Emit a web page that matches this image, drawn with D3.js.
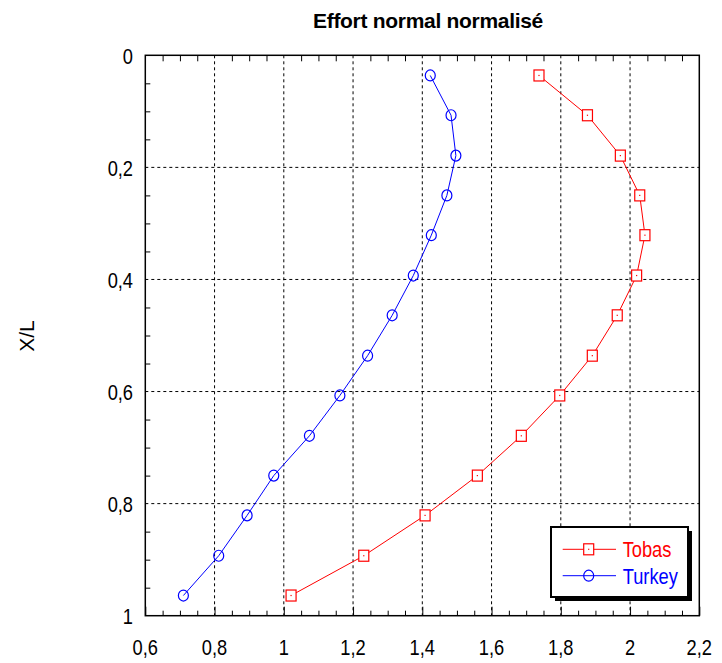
<!DOCTYPE html>
<html>
<head>
<meta charset="utf-8">
<script src="https://cdn.jsdelivr.net/npm/d3@7"></script>
<style>
  html, body { margin: 0; padding: 0; background: #fff; }
  svg { display: block; font-family: "Liberation Sans", Arial, sans-serif; }
</style>
</head>
<body>
<svg id="chart" width="722" height="663"></svg>
<script>
// Normalised position along the element (X/L)
const xOverL = [0.036, 0.107, 0.179, 0.250, 0.321, 0.393, 0.464, 0.536, 0.607, 0.679, 0.750, 0.821, 0.893, 0.964];
// Normalised normal force for each model
const tobas  = [1.737, 1.877, 1.972, 2.028, 2.043, 2.019, 1.963, 1.891, 1.797, 1.686, 1.559, 1.408, 1.231, 1.021];
const turkey = [1.423, 1.483, 1.497, 1.471, 1.426, 1.374, 1.313, 1.242, 1.162, 1.074, 0.971, 0.894, 0.812, 0.710];

const xTicks = [0.6, 0.8, 1.0, 1.2, 1.4, 1.6, 1.8, 2.0, 2.2];
const xTickLabels = ["0,6", "0,8", "1", "1,2", "1,4", "1,6", "1,8", "2", "2,2"];
const yTicks = [0, 0.2, 0.4, 0.6, 0.8, 1.0];
const yTickLabels = ["0", "0,2", "0,4", "0,6", "0,8", "1"];

const seriesNames = ["Tobas", "Turkey"];
const seriesColors = ["#ff0000", "#0000ff"];

const svg = d3.select("#chart");
const L = 145.3, R = 699.3, T = 55.3, B = 615.7;
const x = d3.scaleLinear().domain([0.6, 2.2]).range([L, R]);
const y = d3.scaleLinear().domain([0, 1]).range([T, B]);
const squish = 0.83;

// minor tick values every 0.05
const xMinor = d3.range(0.6, 2.2001, 0.05).filter(v => !xTicks.some(t => Math.abs(t - v) < 1e-6));
const yMinor = d3.range(0, 1.0001, 0.05).filter(v => !yTicks.some(t => Math.abs(t - v) < 1e-6));

// dashed grid
const grid = svg.append("g").attr("stroke", "#000").attr("stroke-width", 1).attr("stroke-dasharray", "3,3");
grid.selectAll("line.gx").data(xTicks.slice(1, -1)).join("line")
  .attr("x1", d => x(d)).attr("x2", d => x(d)).attr("y1", T).attr("y2", B);
grid.selectAll("line.gy").data(yTicks.slice(1, -1)).join("line")
  .attr("y1", d => y(d)).attr("y2", d => y(d)).attr("x1", L).attr("x2", R);

// inward ticks
const tickAxis = (axis, tr) => {
  const g = svg.append("g").attr("transform", tr).call(axis);
  g.select(".domain").remove();
  g.selectAll("line").attr("stroke", "#000").attr("stroke-width", 1);
  return g;
};
tickAxis(d3.axisBottom(x).tickValues(xMinor).tickSize(-5).tickFormat(""), `translate(0,${B})`);
tickAxis(d3.axisBottom(x).tickValues(xTicks).tickSize(-9).tickFormat(""), `translate(0,${B})`);
tickAxis(d3.axisTop(x).tickValues(xMinor).tickSize(-6).tickFormat(""), `translate(0,${T})`);
tickAxis(d3.axisLeft(y).tickValues(yMinor).tickSize(-5).tickFormat(""), `translate(${L},0)`);

// frame
svg.append("rect").attr("x", L).attr("y", T).attr("width", R - L).attr("height", B - T)
  .attr("fill", "none").attr("stroke", "#000").attr("stroke-width", 1.5);

// tick labels
svg.append("g").selectAll("text").data(xTicks).join("text")
  .attr("transform", d => `translate(${x(d)},655) scale(${squish},1)`)
  .attr("text-anchor", "middle").attr("font-size", 22).attr("fill", "#000")
  .text((d, i) => xTickLabels[i]);
svg.append("g").selectAll("text").data(yTicks).join("text")
  .attr("transform", d => `translate(133,${y(d) + 8.5}) scale(${squish},1)`)
  .attr("text-anchor", "end").attr("font-size", 22).attr("fill", "#000")
  .text((d, i) => yTickLabels[i]);

// title and axis label
svg.append("text").attr("x", 428).attr("y", 27.5).attr("text-anchor", "middle")
  .attr("font-size", 21).attr("font-weight", "bold").attr("fill", "#000")
  .attr("letter-spacing", -0.3)
  .text("Effort normal normalisé");
svg.append("text").attr("transform", "translate(34,336) rotate(-90)")
  .attr("text-anchor", "middle").attr("font-size", 21).attr("fill", "#000")
  .text("X/L");

// series lines
const line = d3.line().x(d => x(d[0])).y(d => y(d[1]));
const tobasPts = tobas.map((v, i) => [v, xOverL[i]]);
const turkeyPts = turkey.map((v, i) => [v, xOverL[i]]);

svg.append("path").datum(turkeyPts).attr("d", line)
  .attr("fill", "none").attr("stroke", seriesColors[1]).attr("stroke-width", 1);
svg.append("path").datum(tobasPts).attr("d", line)
  .attr("fill", "none").attr("stroke", seriesColors[0]).attr("stroke-width", 1);

// markers
const drawCircle = (g, cx, cy, color) => {
  g.append("ellipse").attr("cx", cx).attr("cy", cy).attr("rx", 5).attr("ry", 5.5)
    .attr("fill", "none").attr("stroke", color).attr("stroke-width", 1.2);
};
const drawSquare = (g, cx, cy, color) => {
  g.append("rect").attr("x", cx - 5).attr("y", cy - 5.5).attr("width", 10).attr("height", 11)
    .attr("fill", "#fff").attr("stroke", color).attr("stroke-width", 1.2);
  g.append("rect").attr("x", cx - 0.6).attr("y", cy - 0.6).attr("width", 1.2).attr("height", 1.2)
    .attr("fill", color);
};
const mk = svg.append("g");
turkeyPts.forEach(p => drawCircle(mk, x(p[0]), y(p[1]), seriesColors[1]));
tobasPts.forEach(p => drawSquare(mk, x(p[0]), y(p[1]), seriesColors[0]));

// legend
const lg = svg.append("g");
const lx = 551, ly = 527, lw = 137, lh = 70;
lg.append("rect").attr("x", lx + 4).attr("y", ly + 4).attr("width", lw).attr("height", lh).attr("fill", "#000");
lg.append("rect").attr("x", lx).attr("y", ly).attr("width", lw).attr("height", lh)
  .attr("fill", "#fff").attr("stroke", "#000").attr("stroke-width", 2);
seriesNames.forEach((name, i) => {
  const yy = 549.3 + i * 26.4;
  lg.append("line").attr("x1", 562.7).attr("x2", 616).attr("y1", yy).attr("y2", yy)
    .attr("stroke", seriesColors[i]).attr("stroke-width", 1);
  if (i === 0) drawSquare(lg, 588.7, yy, seriesColors[i]);
  else drawCircle(lg, 588.7, yy, seriesColors[i]);
  lg.append("text").attr("transform", `translate(622.7,${yy + 8}) scale(${squish},1)`)
    .attr("font-size", 22).attr("fill", seriesColors[i]).text(name);
});
</script>
</body>
</html>
